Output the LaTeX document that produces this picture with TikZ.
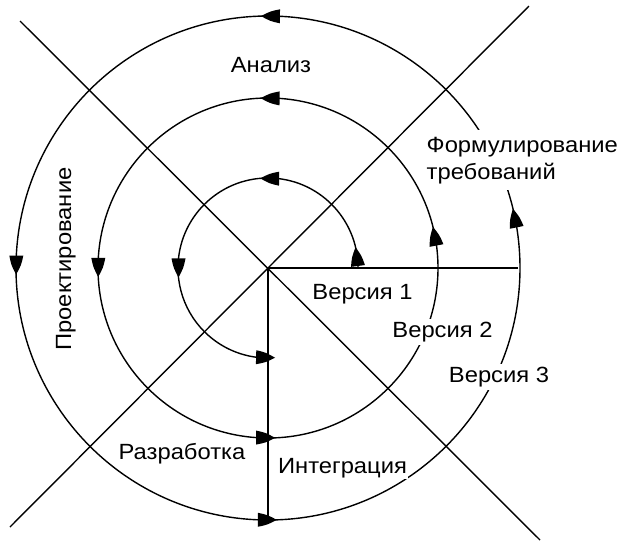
\documentclass[tikz,border=0pt]{standalone}
\usepackage{fontspec}
\setmainfont{Liberation Sans}[FakeStretch=1.08]
\usetikzlibrary{calc}
% arrowhead whose tip sits at angle #1 on the circle of radius #2 round C, pointing counter-clockwise
\newcommand{\ahead}[2]{%
  \pgfmathsetmacro{\bang}{#1-19/#2*57.29578}%
  \coordinate (T) at ([shift={(#1:#2)}]C);
  \coordinate (B) at ([shift={(\bang:#2)}]C);
  \fill (T) .. controls ($(B)!0.5!(T)!5pt!90:(T)$) .. ($(B)!7pt!90:(T)$)
        -- ($(B)!7pt!-90:(T)$) .. controls ($(B)!0.5!(T)!5pt!-90:(T)$) .. (T) -- cycle;}
\begin{document}
\begin{tikzpicture}[x=1pt,y=1pt,line width=1.4pt,
  lbl/.style={font=\fontsize{22}{27}\selectfont,inner sep=0pt},
  cut/.style={fill=white,inner sep=3pt}]
\useasboundingbox (0,0) rectangle (625,-547);
\fill[white] (0,0) rectangle (625,-547);
\coordinate (C) at (268,-268);
\coordinate (d1a) at (20,-21);
\coordinate (d1b) at (540,-540);
\coordinate (d2a) at (10,-527);
\coordinate (d2b) at (529,-6);
\coordinate (hE) at (518,-268);
\coordinate (vS) at (268,-522);
\draw (d1a) -- (d1b);
\draw (d2a) -- (d2b);
\draw (C) -- (hE);
\draw (C) -- (vS);
% inner turn
\draw ([shift={(0:90)}]C) arc[start angle=0,end angle=271,radius=90];
\ahead{13.4}{90}
\ahead{95}{90}
\ahead{186}{90}
\ahead{274.5}{90}
% middle turn
\draw (C) circle[radius=170];
\ahead{14}{170}
\ahead{92.5}{170}
\ahead{183}{170}
\ahead{272.4}{170}
% outer turn
\draw (C) circle[radius=252];
\ahead{13.6}{252}
\ahead{91.6}{252}
\ahead{181.5}{252}
\ahead{272}{252}
% labels
\node[lbl,anchor=base] (an) at (271,-72) {Анализ};
\node[lbl,anchor=base] (v1) at (362.5,-299) {Версия 1};
\node[lbl,cut,anchor=base] (v2) at (442.5,-337) {Версия 2};
\node[lbl,cut,anchor=base] (v3) at (499,-382) {Версия 3};
\node[lbl,anchor=base] (rz) at (182,-459) {Разработка};
\node[lbl,cut,inner sep=1pt,anchor=base] (ig) at (342.5,-473) {Интеграция};
\node[lbl,anchor=base,rotate=90] (pr) at (71,-259) {Проектирование};
\node[lbl,cut,anchor=base west] (fr) at (423,-152)
  {\begin{tabular}[t]{@{}l@{}}Формулирование\\требований\end{tabular}};
\end{tikzpicture}
\end{document}
